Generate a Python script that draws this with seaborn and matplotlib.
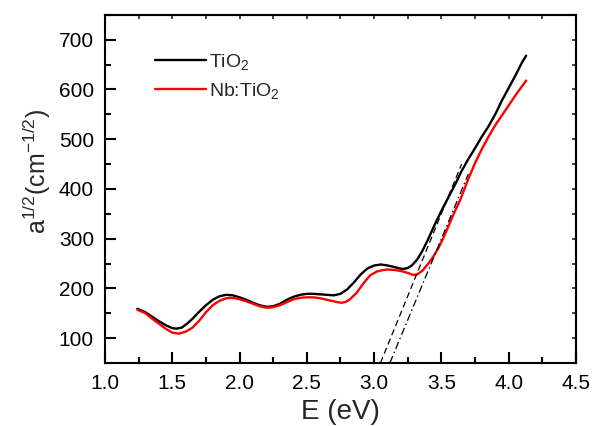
import numpy as np
import pandas as pd
import matplotlib
matplotlib.use("Agg")
import matplotlib.pyplot as plt
import seaborn as sns
from matplotlib.ticker import MultipleLocator
from matplotlib.lines import Line2D

# ---- data ----
E_tio2 = [1.24, 1.30, 1.35, 1.40, 1.45, 1.50, 1.53, 1.57, 1.61, 1.65, 1.70, 1.75, 1.80,
          1.85, 1.90, 1.95, 2.00, 2.05, 2.10, 2.15, 2.20, 2.25, 2.30, 2.35, 2.40, 2.45,
          2.50, 2.55, 2.60, 2.65, 2.70, 2.75, 2.80, 2.85, 2.90, 2.95, 3.00, 3.05, 3.10,
          3.15, 3.19, 3.22, 3.25, 3.28, 3.32, 3.36, 3.40, 3.45, 3.50, 3.55, 3.60, 3.65,
          3.70, 3.75, 3.80, 3.85, 3.90, 3.95, 4.00, 4.05, 4.10, 4.13]
a_tio2 = [159, 152, 143, 134, 126, 120, 119, 121, 129, 139, 153, 166, 177,
          184, 187, 186, 182, 177, 171, 166, 163, 164, 169, 177, 183, 187,
          189, 189, 188, 187, 186, 189, 198, 212, 228, 240, 246, 248, 246,
          243, 240, 239, 241, 246, 258, 276, 298, 328, 356, 382, 408, 436,
          460, 482, 505, 526, 550, 578, 603, 628, 655, 668]

E_nb = [1.24, 1.30, 1.35, 1.40, 1.45, 1.50, 1.55, 1.60, 1.65, 1.70, 1.75, 1.80, 1.85,
        1.90, 1.93, 1.97, 2.00, 2.05, 2.10, 2.15, 2.20, 2.25, 2.30, 2.35, 2.40, 2.45,
        2.50, 2.55, 2.60, 2.65, 2.70, 2.73, 2.76, 2.79, 2.82, 2.87, 2.92, 2.97, 3.02,
        3.07, 3.10, 3.15, 3.20, 3.25, 3.29, 3.32, 3.36, 3.40, 3.44, 3.48, 3.52, 3.56,
        3.60, 3.64, 3.70, 3.75, 3.80, 3.85, 3.90, 3.95, 4.00, 4.05, 4.10, 4.13]
a_nb = [157, 150, 139, 129, 119, 111, 109, 113, 121, 135, 152, 166, 175,
        180, 181, 180, 178, 174, 169, 164, 161, 162, 166, 172, 178, 181,
        182, 182, 180, 177, 174, 172, 171, 173, 178, 191, 210, 226, 234,
        237, 238, 237, 235, 231, 227, 228, 236, 249, 264, 282, 305, 330,
        355, 378, 420, 452, 480, 505, 528, 548, 568, 588, 607, 618]

# linear band-edge extrapolations
fit1_E = [3.047, 3.65]
fit1_a = [50, 450]
fit2_E = [3.117, 3.70]
fit2_a = [50, 430]

xticks = [1.0, 1.5, 2.0, 2.5, 3.0, 3.5, 4.0, 4.5]
yticks = [100, 200, 300, 400, 500, 600, 700]

sns.set_style("ticks")
plt.rcParams["font.family"] = ["Liberation Sans", "DejaVu Sans"]
plt.rcParams["mathtext.fontset"] = "custom"
plt.rcParams["mathtext.rm"] = "Liberation Sans"
plt.rcParams["mathtext.it"] = "Liberation Sans:italic"

df = pd.concat([
    pd.DataFrame({"E": E_tio2, "a": a_tio2, "s": "TiO2"}),
    pd.DataFrame({"E": E_nb, "a": a_nb, "s": "Nb:TiO2"}),
])

fig = plt.figure(figsize=(5.95, 4.26), dpi=100)
ax = fig.add_axes([0.1765, 0.148, 0.7915, 0.817])

sns.lineplot(data=df, x="E", y="a", hue="s", sort=False, estimator=None,
             palette={"TiO2": "black", "Nb:TiO2": "#ff0000"}, linewidth=1.7, ax=ax,
             legend=False)
sns.lineplot(x=fit1_E, y=fit1_a, color="black", linewidth=0.9, ax=ax,
             linestyle=(0, (5, 3)))
sns.lineplot(x=fit2_E, y=fit2_a, color="black", linewidth=0.9, ax=ax,
             linestyle=(0, (6, 2.5, 1.2, 2.5)))

ax.set_xlim(1.0, 4.5)
ax.set_ylim(50, 750)
ax.set_xticks(xticks)
ax.set_yticks(yticks)
ax.set_xticklabels([f"{v:.1f}" for v in xticks])
ax.xaxis.set_minor_locator(MultipleLocator(0.25))
ax.yaxis.set_minor_locator(MultipleLocator(50))
ax.tick_params(which="major", direction="in", length=8, width=1.5, labelsize=15,
               pad=8, color="black", labelcolor="black")
ax.tick_params(which="minor", direction="in", length=4.5, width=1.5, color="black")
for sp in ax.spines.values():
    sp.set_linewidth(1.5)
    sp.set_color("black")
    sp.set_visible(True)

secx = ax.secondary_xaxis("top")
secx.set_xticks(np.arange(1.0, 4.51, 0.25))
secx.tick_params(direction="in", length=3, width=1.2, labeltop=False)
secx.spines["top"].set_linewidth(1.5)
secy = ax.secondary_yaxis("right")
secy.set_yticks(np.arange(50, 751, 50))
secy.tick_params(direction="in", length=3, width=1.2, labelright=False)
secy.spines["right"].set_linewidth(1.5)

ax.set_xlabel("E (eV)", fontsize=20, labelpad=4)
ax.set_ylabel(r"a$^{\mathregular{1/2}}$(cm$^{\mathregular{-1/2}}$)", fontsize=18)
ax.yaxis.set_label_coords(-0.11, 0.55)

handles = [Line2D([], [], color="black", lw=1.7), Line2D([], [], color="#ff0000", lw=1.7)]
ax.legend(handles, [r"TiO$_2$", r"Nb:TiO$_2$"], loc="upper left",
          bbox_to_anchor=(0.07, 0.945), frameon=False, fontsize=14,
          handlelength=2.6, handletextpad=0.15, labelspacing=0.5)

fig.savefig("out.png", dpi=100)
